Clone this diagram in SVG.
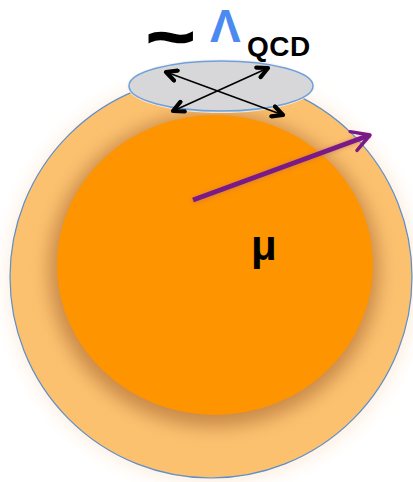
<svg xmlns="http://www.w3.org/2000/svg" width="413" height="482" viewBox="0 0 413 482">
<defs>
<filter id="glow" x="-20%" y="-20%" width="140%" height="140%"><feGaussianBlur stdDeviation="8"/></filter>
<filter id="sh" x="-20%" y="-20%" width="140%" height="140%"><feGaussianBlur stdDeviation="9"/></filter>
<filter id="ps" x="-20%" y="-50%" width="140%" height="200%"><feGaussianBlur stdDeviation="2"/></filter>
<marker id="ah" viewBox="0 0 10 10" refX="8.5" refY="5" markerWidth="15" markerHeight="15" orient="auto-start-reverse" markerUnits="userSpaceOnUse">
<path d="M1.5,1.5 L8.5,5 L1.5,8.5" fill="none" stroke="#000" stroke-width="2.8" stroke-linecap="round" stroke-linejoin="round"/>
</marker>
<marker id="pa" viewBox="0 0 10 10" refX="8" refY="5" markerWidth="5" markerHeight="5" orient="auto" markerUnits="strokeWidth">
<path d="M1,1 L8,5 L1,9" fill="none" stroke="#7a1a86" stroke-width="1.4" stroke-linecap="round" stroke-linejoin="round"/>
</marker>
<style>
.t{font-family:"Liberation Sans",Arial,sans-serif;font-weight:bold}
</style>
</defs>
<rect width="413" height="482" fill="#ffffff"/>
<g id="outer">
<ellipse cx="212" cy="278" rx="206" ry="206" fill="#fdf0e2" filter="url(#glow)"/>
<ellipse cx="211" cy="277" rx="201" ry="201" fill="#fcc16f" stroke="#5d8fcb" stroke-width="1.2"/>
</g>
<g id="inner">
<ellipse cx="214" cy="270" rx="165" ry="157" fill="#c98a48" filter="url(#sh)"/>
<ellipse cx="215" cy="265" rx="158" ry="150" fill="#fe9400"/>
</g>
<g id="top">
<ellipse cx="221" cy="86" rx="94" ry="27" fill="#f3f3f3" opacity="0.8"/>
<ellipse cx="221" cy="86" rx="92" ry="25" fill="#d7d7d9" stroke="#6fa0d8" stroke-width="1.5"/>
</g>
<g id="connectors">
<line x1="166" y1="72" x2="283" y2="115" stroke="#000" stroke-width="1.6" marker-start="url(#ah)" marker-end="url(#ah)"/>
<line x1="268" y1="68" x2="173" y2="111" stroke="#000" stroke-width="1.6" marker-start="url(#ah)" marker-end="url(#ah)"/>
<line x1="193" y1="201" x2="368" y2="136" stroke="#b86a6a" stroke-width="6" opacity="0.5" filter="url(#ps)"/>
<line x1="193" y1="200" x2="370" y2="135" stroke="#7a1a86" stroke-width="5" marker-end="url(#pa)"/>
</g>
<g id="labels">
<text class="t" transform="translate(147,57) scale(1.35,1)" font-size="60" stroke="#000" stroke-width="2.5">~</text>
<text class="t" x="210" y="42" font-size="46" fill="#4b8af0">Λ</text>
<text class="t" x="247" y="56" font-size="28" letter-spacing="0.5">QCD</text>
<text class="t" x="251" y="260" font-size="42">μ</text>
</g>
</svg>
